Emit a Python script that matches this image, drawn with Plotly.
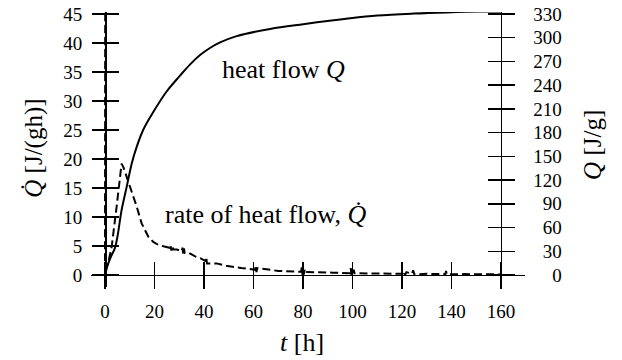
import plotly.graph_objects as go

# ---- data ----
# rate of heat flow  Qdot [J/(g h)]  (dashed, left axis)
t_qdot = [0.0, 0.1, 0.35, 0.7, 1.5, 2.7, 4.7, 6.1, 6.7, 7.5, 8.8, 10.8, 12.8, 14.8, 17.5,
          19.5, 21.5, 24.0, 26.0, 26.4, 26.8, 27.2, 27.6, 29.0, 31.0, 31.3, 31.6, 31.9, 32.2,
          34.0, 36.4, 38.5, 40.6, 40.9, 41.2, 45.0, 49.0, 55.0, 60.6, 60.9, 61.2, 61.5,
          70.0, 79.2, 79.5, 79.8, 80.1, 80.4, 80.7, 81.0, 86.0, 92.0, 99.0, 99.3, 99.6,
          99.9, 100.2, 100.5, 100.8, 103.0, 110.0, 115.0, 120.0, 120.6, 121.2, 121.8,
          124.0, 124.5, 125.0, 130.0, 137.5, 137.8, 138.1, 145.0, 152.0, 160.0]
qdot = [0.3, 60.0, 1.2, 1.4, 2.5, 4.9, 11.8, 17.5, 19.2, 18.5, 16.9, 14.1, 11.8, 8.9, 6.6,
        5.7, 5.2, 4.9, 4.7, 5.2, 4.2, 5.1, 4.4, 4.4, 4.1, 4.7, 3.6, 4.6, 3.8,
        3.8, 3.2, 2.9, 2.4, 3.1, 2.0, 2.0, 1.6, 1.2, 0.9, 1.5, 0.5, 1.2,
        0.7, 0.55, 1.3, 0.0, 1.1, 0.1, 1.0, 0.5, 0.5, 0.4, 0.3, 1.2, -0.2, 1.0,
        0.0, 0.9, 0.3, 0.3, 0.3, 0.25, 0.2, 0.7, 0.0, 0.5,
        0.2, 0.8, 0.1, 0.2, 0.15, 0.7, 0.1, 0.15, 0.15, 0.1]

# cumulative heat flow  Q [J/g]  (solid, right axis)
t_q = [0.0, 0.5, 1.35, 2.5, 4.0, 5.0, 6.7, 8.8, 10.8, 12.8, 15.5, 19.5, 24.9, 30.3, 34.3,
       38.4, 42.4, 46.5, 53.2, 66.7, 80.1, 99.0, 110.0, 124.6, 138.0, 151.5, 160.0]
q = [0.0, 6.0, 15.0, 24.0, 34.0, 48.0, 82.0, 112.0, 141.0, 162.0, 184.0, 206.0, 232.0,
     252.0, 266.0, 278.0, 287.0, 294.0, 302.0, 311.0, 317.0, 324.5, 328.0, 330.5,
     332.0, 333.0, 333.0]

x_tickvals = [0, 20, 40, 60, 80, 100, 120, 140, 160]
y_tickvals = [0, 5, 10, 15, 20, 25, 30, 35, 40, 45]
y2_tickvals = [0, 30, 60, 90, 120, 150, 180, 210, 240, 270, 300, 330]
y2_ticklabels = ["0", "30", "60", "90", "120", "150", "180", "210", "240", "270", "300", "330"]

x_title = "<i>t</i> [h]"
y_title = "<i>Q\u0307</i> [J/(gh)]"
y2_title = "<i>Q</i> [J/g]"
label_q = "heat flow <i>Q</i>"
label_qdot = "rate of heat flow, <i>Q\u0307</i>"

# ---- styling ----
FONT = "Liberation Serif"
XR = [-5.66, 169.7]
YR = [-2.07, 45.34]
SCALE2 = 330 / 45
Y2R = [YR[0] * SCALE2, YR[1] * SCALE2]
x_pos = (0 - YR[0]) / (YR[1] - YR[0])       # x axis drawn at y = 0
y_pos = (0 - XR[0]) / (XR[1] - XR[0])       # left axis at t = 0
y2_pos = (160 - XR[0]) / (XR[1] - XR[0])    # right axis at t = 160
TL = 13
LW = 1.5
tickfont = dict(family=FONT, size=19, color="black")

fig = go.Figure()
fig.add_trace(go.Scatter(x=t_qdot, y=qdot, mode="lines",
                         line=dict(color="black", width=2, dash="8px,4px"),
                         xaxis="x", yaxis="y", showlegend=False, hoverinfo="skip"))
fig.add_trace(go.Scatter(x=t_q, y=q, mode="lines",
                         line=dict(color="black", width=2, shape="spline", smoothing=1.0),
                         xaxis="x", yaxis="y2", showlegend=False, hoverinfo="skip"))
# helper (empty) traces so the inner-tick overlay axes exist
fig.add_trace(go.Scatter(x=[None], y=[None], xaxis="x2", yaxis="y3",
                         showlegend=False, hoverinfo="skip"))
fig.add_trace(go.Scatter(x=[None], y=[None], xaxis="x2", yaxis="y4",
                         showlegend=False, hoverinfo="skip"))

common = dict(showgrid=False, zeroline=False, linecolor="black", linewidth=LW,
              tickcolor="black", tickwidth=LW, ticklen=TL, tickfont=tickfont,
              automargin=False, ticklabeloverflow="allow")

pad_w = max(len(s) for s in y2_ticklabels)
y2_text = ["\u2007" * (pad_w - len(s)) + s for s in y2_ticklabels]

fig.update_layout(
    template="none",
    width=622, height=360, autosize=False,
    paper_bgcolor="white", plot_bgcolor="white",
    font=dict(family=FONT, color="black"),
    hovermode=False,
    margin=dict(l=91, r=97, t=12, b=73, autoexpand=False),
    xaxis=dict(range=XR, tickvals=x_tickvals, ticks="outside", anchor="free",
               position=x_pos, showline=True, ticklabelstandoff=6, **common),
    xaxis2=dict(range=XR, tickvals=x_tickvals, ticks="inside", anchor="free",
                position=x_pos, overlaying="x", showline=False,
                showticklabels=False, **common),
    yaxis=dict(range=YR, tickvals=y_tickvals, ticks="outside", anchor="free",
               position=y_pos, showline=True, ticklabelstandoff=6, **common),
    yaxis2=dict(range=Y2R, tickvals=y2_tickvals, ticktext=y2_text, ticks="outside",
                anchor="free", position=y2_pos, overlaying="y", side="right",
                showline=True, ticklabelstandoff=14, **common),
    yaxis3=dict(range=YR, tickvals=y_tickvals, ticks="inside", anchor="free",
                position=y_pos, overlaying="y", showline=False,
                showticklabels=False, **common),
    yaxis4=dict(range=Y2R, tickvals=y2_tickvals, ticks="inside", anchor="free",
                position=y2_pos, overlaying="y", side="right", showline=False,
                showticklabels=False, **common),
    annotations=[
        dict(text=x_title, xref="paper", yref="paper", x=0.486, y=-0.2,
             showarrow=False, xanchor="center", yanchor="middle",
             font=dict(family=FONT, size=26, color="black")),
        dict(text=y_title, xref="paper", yref="paper", x=-0.13, y=0.505,
             showarrow=False, textangle=-90, xanchor="center", yanchor="middle",
             font=dict(family=FONT, size=25, color="black")),
        dict(text=y2_title, xref="paper", yref="paper", x=1.154, y=0.516,
             showarrow=False, textangle=-90, xanchor="center", yanchor="middle",
             font=dict(family=FONT, size=25, color="black")),
        dict(text=label_q, xref="x", yref="y", x=46.5, y=35.5, showarrow=False,
             xanchor="left", yanchor="middle",
             font=dict(family=FONT, size=26, color="black")),
        dict(text=label_qdot, xref="x", yref="y", x=23.4, y=10.5, showarrow=False,
             xanchor="left", yanchor="middle",
             font=dict(family=FONT, size=26, color="black")),
    ],
)

# remove the default 8px page margin so the figure fills the window exactly
fig.write_html("out.html",
               config={"displayModeBar": False, "staticPlot": True},
               post_script="document.body.style.margin='0';document.body.style.overflow='hidden';")
